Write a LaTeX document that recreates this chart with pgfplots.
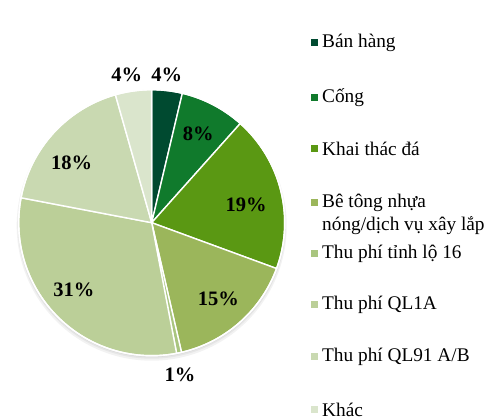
\documentclass[border=0pt]{standalone}
\usepackage{pgfplots}
\pgfplotsset{compat=1.18}
\usepackage{fontspec}
\setmainfont{Liberation Serif}
\definecolor{c1}{HTML}{004A30}
\definecolor{c2}{HTML}{107A2C}
\definecolor{c3}{HTML}{5A9813}
\definecolor{c4}{HTML}{9BB65B}
\definecolor{c5}{HTML}{A9C57F}
\definecolor{c6}{HTML}{BBCF98}
\definecolor{c7}{HTML}{C9D9B1}
\definecolor{c8}{HTML}{DAE5CC}
% #1 cumulative share before slice, #2 share (percent), #3 colour
\newcommand{\slice}[3]{%
  \fill[#3, draw=white, line width=1.4pt, line join=round]
    (axis cs:0,0) -- (axis cs:{133*cos(90-3.6*#1)},{133*sin(90-3.6*#1)})
    arc[start angle={90-3.6*#1}, end angle={90-3.6*(#1+#2)}, radius=133pt] -- cycle;}
\begin{document}
\begin{tikzpicture}
\useasboundingbox (0,0) rectangle (488pt,420pt);
\begin{axis}[at={(151.7pt,197.3pt)}, anchor=center, scale only axis,
  width=266pt, height=266pt, xmin=-133, xmax=133, ymin=-133, ymax=133,
  hide axis, clip=false]
% soft shadow
\fill[black, opacity=0.05] (axis cs:0,-3) circle[radius=135pt];
\fill[black, opacity=0.05] (axis cs:0,-2) circle[radius=134pt];
\fill[black, opacity=0.05] (axis cs:0,-1) circle[radius=133.5pt];
% slices: shares 3.7, 7.9, 19.0, 15.8, 0.6, 31.0, 17.6, 4.4
\slice{0}{3.7}{c1}
\slice{3.7}{7.9}{c2}
\slice{11.6}{19.0}{c3}
\slice{30.6}{15.8}{c4}
\slice{46.4}{0.6}{c5}
\slice{47.0}{31.0}{c6}
\slice{78.0}{17.6}{c7}
\slice{95.6}{4.4}{c8}
\draw[white, line width=1.4pt] (axis cs:0,0) circle[radius=133pt];
\begin{scope}[every node/.style={font=\fontsize{20.5}{24}\selectfont\bfseries}]
\node at (axis cs:15,147.7) {4\%};
\node at (axis cs:46.6,88.7) {8\%};
\node at (axis cs:94.3,17.7) {19\%};
\node at (axis cs:66.6,-76.6) {15\%};
\node at (axis cs:28.3,-152.3) {1\%};
\node at (axis cs:-77.7,-67.3) {31\%};
\node at (axis cs:-80,59.4) {18\%};
\node at (axis cs:-25,147.7) {4\%};
\end{scope}
\end{axis}
% legend
\begin{scope}[every node/.style={font=\fontsize{19.3}{23}\selectfont, anchor=west, inner sep=0pt}]
\fill[c1] (310.5pt,{(420-43-3.5)*1pt}) rectangle ++(7pt,7pt);
\node at (322pt,{(420-43)*1pt}) {Bán hàng};
\fill[c2] (310.5pt,{(420-98-3.5)*1pt}) rectangle ++(7pt,7pt);
\node at (322pt,{(420-98)*1pt}) {Cống};
\fill[c3] (310.5pt,{(420-149-3.5)*1pt}) rectangle ++(7pt,7pt);
\node at (322pt,{(420-149)*1pt}) {Khai thác đá};
\fill[c4] (310.5pt,{(420-203-3.5)*1pt}) rectangle ++(7pt,7pt);
\node at (322pt,{(420-203)*1pt}) {Bê tông nhựa};
\node at (322pt,{(420-226)*1pt}) {nóng/dịch vụ xây lắp};
\fill[c5] (310.5pt,{(420-254-3.5)*1pt}) rectangle ++(7pt,7pt);
\node at (322pt,{(420-254)*1pt}) {Thu phí tỉnh lộ 16};
\fill[c6] (310.5pt,{(420-305-3.5)*1pt}) rectangle ++(7pt,7pt);
\node at (322pt,{(420-305)*1pt}) {Thu phí QL1A};
\fill[c7] (310.5pt,{(420-357-3.5)*1pt}) rectangle ++(7pt,7pt);
\node at (322pt,{(420-357)*1pt}) {Thu phí QL91 A/B};
\fill[c8] (310.5pt,{(420-410-3.5)*1pt}) rectangle ++(7pt,7pt);
\node at (322pt,{(420-410)*1pt}) {Khác};
\end{scope}
\end{tikzpicture}
\end{document}
